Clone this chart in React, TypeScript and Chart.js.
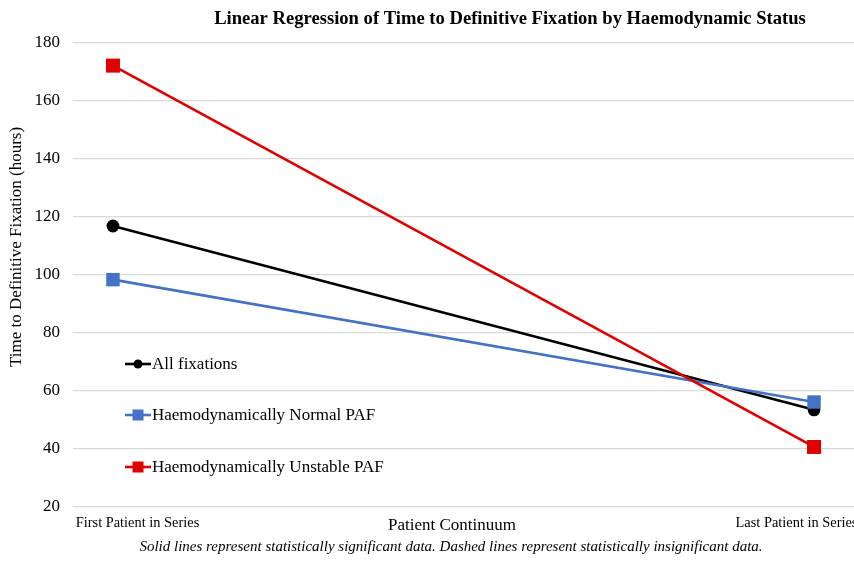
import React, { useEffect, useRef } from "react";
import { Chart, registerables } from "chart.js";

Chart.register(...registerables);

const FONT = '"Liberation Serif", "Times New Roman", serif';

const xPositions = [0, 1];
const tickPositions = [0.035, 0.975];
const tickLabels = ["First Patient in Series", "Last Patient in Series"];

const allFixations = [116.9, 53.5];
const normalPAF = [98.4, 56.2];
const unstablePAF = [172.2, 40.7];

const seriesNames = ["All fixations", "Haemodynamically Normal PAF", "Haemodynamically Unstable PAF"];
const seriesColors = ["#000000", "#4472C4", "#E00000"];

const titleText = "Linear Regression of Time to Definitive Fixation by Haemodynamic Status";
const yTitle = "Time to Definitive Fixation (hours)";
const xTitle = "Patient Continuum";
const footnote = "Solid lines represent statistically significant data. Dashed lines represent statistically insignificant data.";

const toPts = (ys: number[]) => ys.map((y, i) => ({ x: xPositions[i], y }));

const overlayPlugin = {
  id: "overlay",
  afterDraw(chart: any) {
    const ctx = chart.ctx;
    const xs = chart.scales.x;
    ctx.save();
    ctx.fillStyle = "#000";
    ctx.textAlign = "center";
    ctx.textBaseline = "middle";
    // title
    ctx.font = `bold 18.6px ${FONT}`;
    ctx.fillText(titleText, 510, 19);
    // x tick labels
    ctx.font = `14.4px ${FONT}`;
    tickPositions.forEach((v, i) => {
      ctx.fillText(tickLabels[i], xs.getPixelForValue(v), chart.chartArea.bottom + 16);
    });
    // x axis title
    ctx.font = `17px ${FONT}`;
    ctx.fillText(xTitle, 452, 526);
    // footnote
    ctx.font = `italic 15px ${FONT}`;
    ctx.fillText(footnote, 451, 547);
    // y axis title
    ctx.save();
    ctx.translate(17, 247);
    ctx.rotate(-Math.PI / 2);
    ctx.font = `17px ${FONT}`;
    ctx.fillText(yTitle, 0, 0);
    ctx.restore();
    // legend
    const ys = [364, 415, 467];
    const styles = ["circle", "rect", "rect"];
    ys.forEach((y, i) => {
      ctx.strokeStyle = seriesColors[i];
      ctx.fillStyle = seriesColors[i];
      ctx.lineWidth = 2.6;
      ctx.beginPath();
      ctx.moveTo(125, y);
      ctx.lineTo(151, y);
      ctx.stroke();
      if (styles[i] === "circle") {
        ctx.beginPath();
        ctx.arc(138, y, 4.5, 0, Math.PI * 2);
        ctx.fill();
      } else {
        ctx.fillRect(138 - 5.5, y - 5.5, 11, 11);
      }
      ctx.fillStyle = "#000";
      ctx.textAlign = "left";
      ctx.font = `17px ${FONT}`;
      ctx.fillText(seriesNames[i], 152, y + 1);
    });
    ctx.restore();
  },
};

export default function App() {
  const ref = useRef<HTMLCanvasElement>(null);
  useEffect(() => {
    document.body.style.margin = "0";
    const canvas = ref.current!;
    const chart = new Chart(canvas, {
      type: "line",
      data: {
        datasets: [
          {
            label: seriesNames[0],
            data: toPts(allFixations),
            borderColor: seriesColors[0],
            backgroundColor: seriesColors[0],
            borderWidth: 2.6,
            pointStyle: "circle",
            pointRadius: 6.4,
            pointBorderWidth: 0,
            order: 3,
          },
          {
            label: seriesNames[1],
            data: toPts(normalPAF),
            borderColor: seriesColors[1],
            backgroundColor: seriesColors[1],
            borderWidth: 2.6,
            pointStyle: "rect",
            pointRadius: 9.5,
            pointBorderWidth: 0,
            order: 2,
          },
          {
            label: seriesNames[2],
            data: toPts(unstablePAF),
            borderColor: seriesColors[2],
            backgroundColor: seriesColors[2],
            borderWidth: 2.6,
            pointStyle: "rect",
            pointRadius: 9.9,
            pointBorderWidth: 0,
            order: 1,
          },
        ],
      },
      options: {
        animation: false,
        responsive: false,
        maintainAspectRatio: false,
        layout: { autoPadding: false, padding: { top: 43, left: 0, right: 0, bottom: 0 } },
        plugins: {
          legend: { display: false },
          title: { display: false },
          tooltip: { enabled: false },
        },
        scales: {
          x: {
            type: "linear",
            min: -0.057,
            max: 1.057,
            grid: { display: false },
            border: { display: false },
            ticks: { display: false },
            afterFit: (scale: any) => {
              scale.height = 56;
              scale.paddingLeft = 0;
              scale.paddingRight = 0;
            },
          },
          y: {
            min: 20,
            max: 180,
            grid: { color: "#d9d9d9", drawTicks: false, lineWidth: 1.3 },
            border: { display: false },
            afterFit: (scale: any) => {
              scale.width = 73;
              scale.paddingLeft = 0;
              scale.paddingRight = 0;
            },
            ticks: {
              stepSize: 20,
              padding: 13,
              color: "#000",
              font: { family: FONT, size: 17 },
            },
          },
        },
      },
      plugins: [overlayPlugin],
    } as any);
    return () => chart.destroy();
  }, []);
  return (
    <div style={{ position: "fixed", left: 0, top: 0, width: 854, height: 563, background: "#fff" }}>
      <canvas ref={ref} width={854} height={563} style={{ width: 854, height: 563, display: "block" }} />
    </div>
  );
}
